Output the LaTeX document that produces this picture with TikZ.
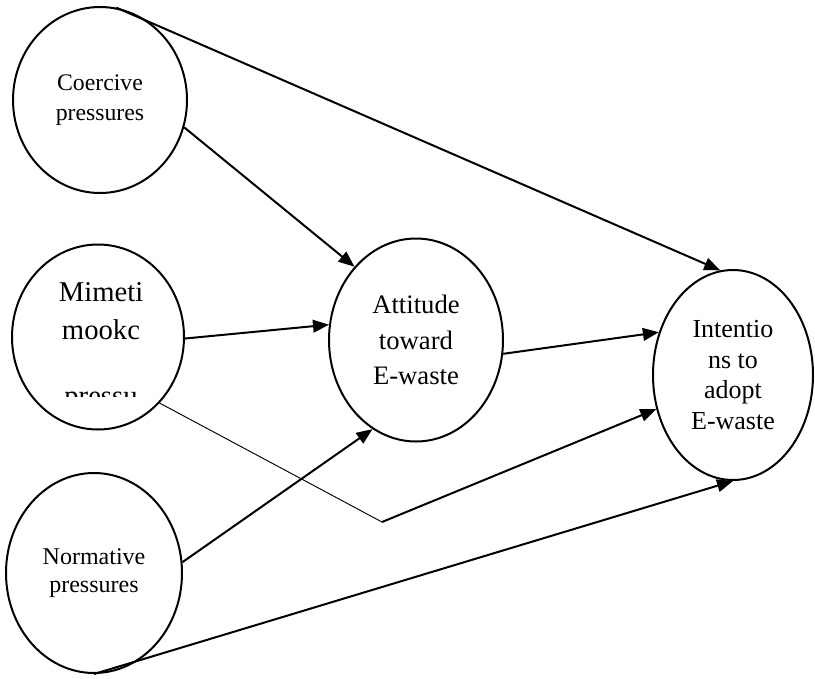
\documentclass[tikz,border=0pt]{standalone}
\usepackage{fontspec}
\setmainfont{Liberation Serif}
\usetikzlibrary{shapes.geometric,arrows.meta}

\begin{document}
\begin{tikzpicture}[x=0.75pt,y=-0.75pt,>={Triangle[length=12pt,width=9.5pt]},
        konstrukt/.style={ellipse, draw, line width=1.5pt, inner sep=0pt, align=center},
        pfeil/.style={->, line width=1.5pt}]
        \useasboundingbox (0,0) rectangle (815,679);
        % Konstrukte links
        \node[konstrukt, minimum width=130.5pt, minimum height=139.5pt,
            font=\fontsize{17.8}{23}\selectfont] (coe) at (100,100) {Coercive\\pressures};
        \node[konstrukt, minimum width=129pt, minimum height=138.75pt] (mim) at (98,337) {};
        \node[konstrukt, minimum width=132pt, minimum height=150pt,
            font=\fontsize{18}{21}\selectfont] (nor) at (94,573) {Normative\\pressures};
        % Text im mittleren Kreis
        \node[font=\fontsize{21.5}{28.5}\selectfont, align=center, inner sep=0pt] (mimtxt) at (101,311) {Mimeti\\mookc};
        \begin{scope}
            \clip (20,380) rectangle (180,396);
            \node[font=\fontsize{21.5}{28.5}\selectfont, inner sep=0pt, anchor=base] (mimrest) at (101,405) {pressu};
        \end{scope}
        % Konstrukte rechts
        \node[konstrukt, minimum width=130.5pt, minimum height=152.25pt,
            font=\fontsize{20}{26.6}\selectfont] (att) at (416,340) {Attitude\\toward\\E-waste};
        \node[konstrukt, minimum width=120pt, minimum height=157.5pt,
            font=\fontsize{19.5}{23}\selectfont] (int) at (733,375) {Intentio\\ns to\\adopt\\E-waste};
        % Pfade
        \coordinate (knick) at (382,522);
        \draw[pfeil] (coe.80) -- (int.97);
        \draw[pfeil] (coe.-18) -- (att.130);
        \draw[pfeil] (mim.-1) -- (att.170);
        \draw[pfeil] (att.-9) -- (int.150);
        \draw[line width=0.7pt] (mim.-47) -- (knick);
        \draw[pfeil] (knick) -- (int.204);
        \draw[pfeil] (nor.7) -- (att.244);
        \draw[pfeil] (nor.south) -- (int.south);
    \end{tikzpicture}
\end{document}
